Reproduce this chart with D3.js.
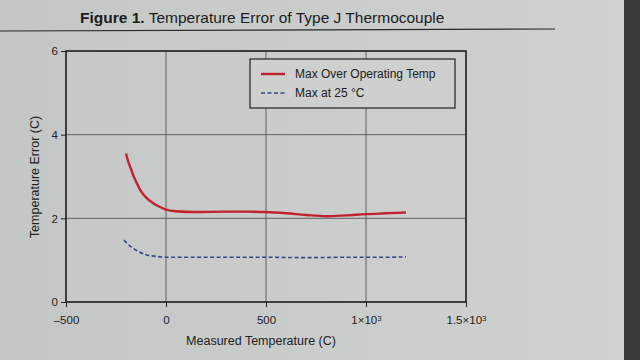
<!DOCTYPE html>
<html>
<head>
<meta charset="utf-8">
<script src="https://cdn.jsdelivr.net/npm/d3@7"></script>
<style>
  body { margin: 0; background: #c9cccb; }
  svg { display: block; font-family: "Liberation Sans", Arial, sans-serif; }
</style>
</head>
<body>
<div id="chart"></div>
<script>
// values
const xTicks = [-500, 0, 500, 1000, 1500];
const yTicks = [0, 2, 4, 6];
const maxOverTempX = [-200, -185, -175, -160, -150, -128, -100, -64, -30, 0, 50, 150, 300, 400, 500, 600, 700, 800, 900, 1000, 1100, 1200];
const maxOverTempY = [3.55, 3.3, 3.18, 2.98, 2.88, 2.67, 2.5, 2.36, 2.27, 2.21, 2.17, 2.15, 2.16, 2.16, 2.15, 2.12, 2.08, 2.05, 2.07, 2.1, 2.12, 2.14];
const max25X = [-210, -175, -150, -100, -50, 0, 100, 300, 500, 700, 900, 1100, 1200];
const max25Y = [1.48, 1.32, 1.24, 1.13, 1.09, 1.07, 1.07, 1.07, 1.07, 1.06, 1.07, 1.07, 1.08];
const seriesNames = ["Max Over Operating Temp", "Max at 25 °C"];

const W = 640, H = 360;
const margin = {left: 66, right: 174, top: 51, bottom: 58};
const w = W - margin.left - margin.right, h = H - margin.top - margin.bottom;

const svg = d3.select('#chart').append('svg').attr('width', W).attr('height', H);

// photo-ish background
const grad = svg.append('defs').append('linearGradient').attr('id', 'bg').attr('x1', 0).attr('x2', 1);
grad.append('stop').attr('offset', '0%').attr('stop-color', '#c3c7c6');
grad.append('stop').attr('offset', '100%').attr('stop-color', '#cfd2d1');
svg.append('rect').attr('width', W).attr('height', H).attr('fill', 'url(#bg)');
svg.append('rect').attr('x', 624).attr('width', 16).attr('height', H).attr('fill', '#3b3b3b');

// title
const title = svg.append('text').attr('x', 80).attr('y', 23).style('font-size', '15.5px').attr('fill', '#1c1c1c');
title.append('tspan').style('font-weight', 'bold').text('Figure 1.');
title.append('tspan').text(' Temperature Error of Type J Thermocouple');
svg.append('line').attr('x1', 0).attr('x2', 555).attr('y1', 31).attr('y2', 29)
  .attr('stroke', '#2a2a2a').attr('stroke-width', 1.2);

const g = svg.append('g').attr('transform', 'translate(' + margin.left + ',' + margin.top + ')');

let x = d3.scaleLinear().domain([-500, 1500]).range([0, w]);
let y = d3.scaleLinear().domain([0, 6]).range([h, 0]);

// grid
g.selectAll('.vgrid').data(xTicks).enter().append('line')
  .attr('x1', d => x(d)).attr('x2', d => x(d)).attr('y1', 0).attr('y2', h)
  .attr('stroke', '#555').attr('stroke-width', 0.9);
g.selectAll('.hgrid').data(yTicks).enter().append('line')
  .attr('x1', 0).attr('x2', w).attr('y1', d => y(d)).attr('y2', d => y(d))
  .attr('stroke', '#555').attr('stroke-width', 0.9);
g.append('rect').attr('width', w).attr('height', h).attr('fill', 'none')
  .attr('stroke', '#222').attr('stroke-width', 1.5);

function fmtX(d) {
  if (Math.abs(d) >= 1000) return (d / 1000) + '×10';
  return d < 0 ? '–' + (-d) : '' + d;
}

// axes
const xAxis = g.append('g').attr('transform', 'translate(0,' + h + ')')
  .call(d3.axisBottom(x).tickValues(xTicks).tickSize(5).tickFormat(fmtX));
xAxis.select('.domain').remove();
xAxis.selectAll('line').attr('stroke', '#222');
xAxis.selectAll('text').attr('fill', '#222').style('font-size', '11.5px').attr('dy', '1.2em')
  .each(function(d) {
    if (Math.abs(d) >= 1000) d3.select(this).append('tspan').attr('dy', '-0.4em').style('font-size', '8px').text('3');
  });

const yAxis = g.append('g')
  .call(d3.axisLeft(y).tickValues(yTicks).tickSize(5).tickFormat(d3.format('d')));
yAxis.select('.domain').remove();
yAxis.selectAll('line').attr('stroke', '#222');
yAxis.selectAll('text').attr('fill', '#222').style('font-size', '11.5px');

svg.append('text').attr('x', 261).attr('y', 345).attr('text-anchor', 'middle')
  .style('font-size', '12.5px').attr('fill', '#222').text('Measured Temperature (C)');
svg.append('text').attr('transform', 'translate(39,177) rotate(-90)').attr('text-anchor', 'middle')
  .style('font-size', '12.5px').attr('fill', '#222').text('Temperature Error (C)');

// lines
let line = d3.line().curve(d3.curveMonotoneX).x(d => x(d[0])).y(d => y(d[1]));

g.append('path').datum(d3.zip(maxOverTempX, maxOverTempY))
  .attr('d', line).attr('fill', 'none').attr('stroke', '#c0232e').attr('stroke-width', 2.4);
g.append('path').datum(d3.zip(max25X, max25Y))
  .attr('d', line).attr('fill', 'none').attr('stroke', '#34488c').attr('stroke-width', 1.6)
  .attr('stroke-dasharray', '4,2.5');

// legend
const leg = svg.append('g').attr('transform', 'translate(250,59)');
leg.append('rect').attr('width', 205).attr('height', 49).attr('fill', '#cdd0cf')
  .attr('stroke', '#222').attr('stroke-width', 1.2);
leg.append('line').attr('x1', 11).attr('x2', 35).attr('y1', 15).attr('y2', 15)
  .attr('stroke', '#c0232e').attr('stroke-width', 2.4);
leg.append('line').attr('x1', 11).attr('x2', 35).attr('y1', 34).attr('y2', 34)
  .attr('stroke', '#34488c').attr('stroke-width', 1.6).attr('stroke-dasharray', '4,2.5');
leg.selectAll('.lt').data(seriesNames).enter().append('text')
  .attr('x', 45).attr('y', (d, i) => 19 + i * 19)
  .style('font-size', '12px').attr('fill', '#1c1c1c').text(d => d);
</script>
</body>
</html>
